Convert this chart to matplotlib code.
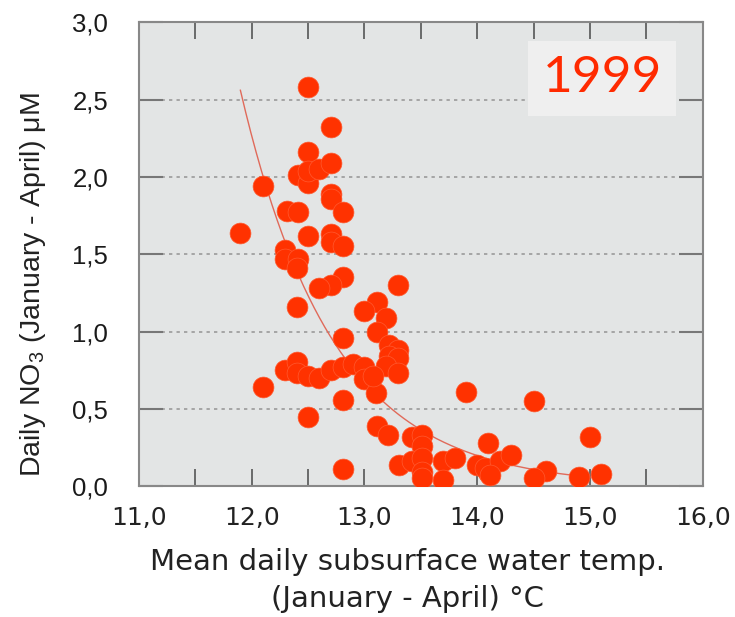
import numpy as np
import matplotlib
matplotlib.use('Agg')
import matplotlib.pyplot as plt

# water temperature (°C) and daily NO3 (uM)
temp = [11.90, 12.10, 12.10, 12.31, 12.41, 12.30, 12.30, 12.41, 12.40, 12.40,
        12.41, 12.50, 12.50, 12.50, 12.50, 12.50, 12.60, 12.70, 12.70, 12.70,
        12.70, 12.81, 12.70, 12.70, 12.81, 12.81, 12.70, 12.60, 12.81, 12.30,
        12.40, 12.40, 12.50, 12.60, 12.70, 12.81, 12.90, 13.00, 13.00, 13.10,
        12.81, 12.50, 12.81, 13.30, 13.11, 13.00, 13.19, 13.11, 13.22, 13.30,
        13.22, 13.30, 13.19, 13.30, 13.08, 13.11, 13.21, 13.42, 13.51, 13.51,
        13.31, 13.42, 13.51, 13.51, 13.51, 13.70, 13.80, 13.70, 13.90, 14.10,
        14.00, 14.10, 14.07, 14.20, 14.30, 14.11, 14.50, 14.61, 14.50, 15.00,
        14.90, 15.10]
no3 = [1.64, 1.94, 0.64, 1.78, 1.77, 1.525, 1.47, 1.47, 1.41, 1.16,
       2.01, 2.58, 2.16, 1.96, 2.04, 1.62, 2.05, 2.32, 2.09, 1.89,
       1.86, 1.77, 1.63, 1.58, 1.55, 1.35, 1.30, 1.28, 0.96, 0.75,
       0.80, 0.73, 0.71, 0.70, 0.75, 0.77, 0.79, 0.77, 0.69, 0.60,
       0.56, 0.45, 0.11, 1.30, 1.19, 1.13, 1.09, 1.00, 0.91, 0.88,
       0.84, 0.83, 0.78, 0.73, 0.71, 0.39, 0.33, 0.32, 0.33, 0.26,
       0.14, 0.16, 0.18, 0.09, 0.05, 0.16, 0.18, 0.04, 0.61, 0.28,
       0.14, 0.09, 0.12, 0.16, 0.20, 0.07, 0.55, 0.10, 0.05, 0.32,
       0.06, 0.08]

# exponential trend line y = a*exp(-b*(x - x0)), fitted by eye
fit_a, fit_b, fit_x0 = 2.56, 1.218, 11.9
fit_range = (11.9, 15.0)

xticks = [11.0, 12.0, 13.0, 14.0, 15.0, 16.0]
yticks = [0.0, 0.5, 1.0, 1.5, 2.0, 2.5, 3.0]

plt.rcParams['mathtext.fontset'] = 'custom'
plt.rcParams['mathtext.rm'] = 'Liberation Sans'

fig = plt.figure(figsize=(7.35, 6.17), dpi=100)
ax = fig.add_axes([0.189, 0.212, 0.767, 0.752])
ax.set_facecolor('#e3e5e5')

for yv in yticks[1:-1]:
    ax.axhline(yv, color='#9a9a9a', lw=1.2, ls=(0, (2, 2.5)), zorder=1)

xs = np.linspace(fit_range[0], fit_range[1], 200)
ax.plot(xs, fit_a * np.exp(-fit_b * (xs - fit_x0)), color='#e06a5a', lw=1, zorder=3)
ax.scatter(temp, no3, s=225, color='#ff3200', edgecolors='#ff5a30', linewidths=0.5, zorder=4)

ax.set_xlim(11, 16)
ax.set_ylim(0, 3)
ax.set_xticks(xticks)
ax.set_xticklabels([('%.1f' % v).replace('.', ',') for v in xticks],
                   fontsize=18, family='DejaVu Sans', color='#222222')
ax.set_xticks(np.arange(11.5, 16, 1.0), minor=True)
ax.set_yticks(yticks)
ax.set_yticklabels([('%.1f' % v).replace('.', ',') for v in yticks],
                   fontsize=18.5, family='Liberation Sans', color='#1a1a1a')
ax.tick_params(axis='x', which='both', direction='in', length=12, width=1.2,
               color='#555555', top=True, pad=14)
ax.tick_params(axis='y', direction='in', length=17, width=1.5,
               color='#777777', right=True, pad=22)
for sp in ax.spines.values():
    sp.set_color('#888888')
    sp.set_linewidth(1.5)

ax.set_xlabel('Mean daily subsurface water temp.\n(January - April) °C',
              fontsize=21, family='DejaVu Sans', color='#222222',
              linespacing=1.4)
ax.xaxis.set_label_coords(0.477, -0.134)
ax.set_ylabel('Daily NO$_3$ (January - April) μM', fontsize=20.5,
              family='Liberation Sans', color='#222222')
ax.yaxis.set_label_coords(-0.162, 0.435)

ax.text(0.822, 0.879, '1999', transform=ax.transAxes, ha='center', va='center',
        fontsize=37, color='#ff2a00', family=['Lato', 'DejaVu Sans'],
        bbox=dict(boxstyle='square,pad=0.28', facecolor='#efefef', edgecolor='none'),
        zorder=5)

fig.savefig('out.png', dpi=100, facecolor='white')
